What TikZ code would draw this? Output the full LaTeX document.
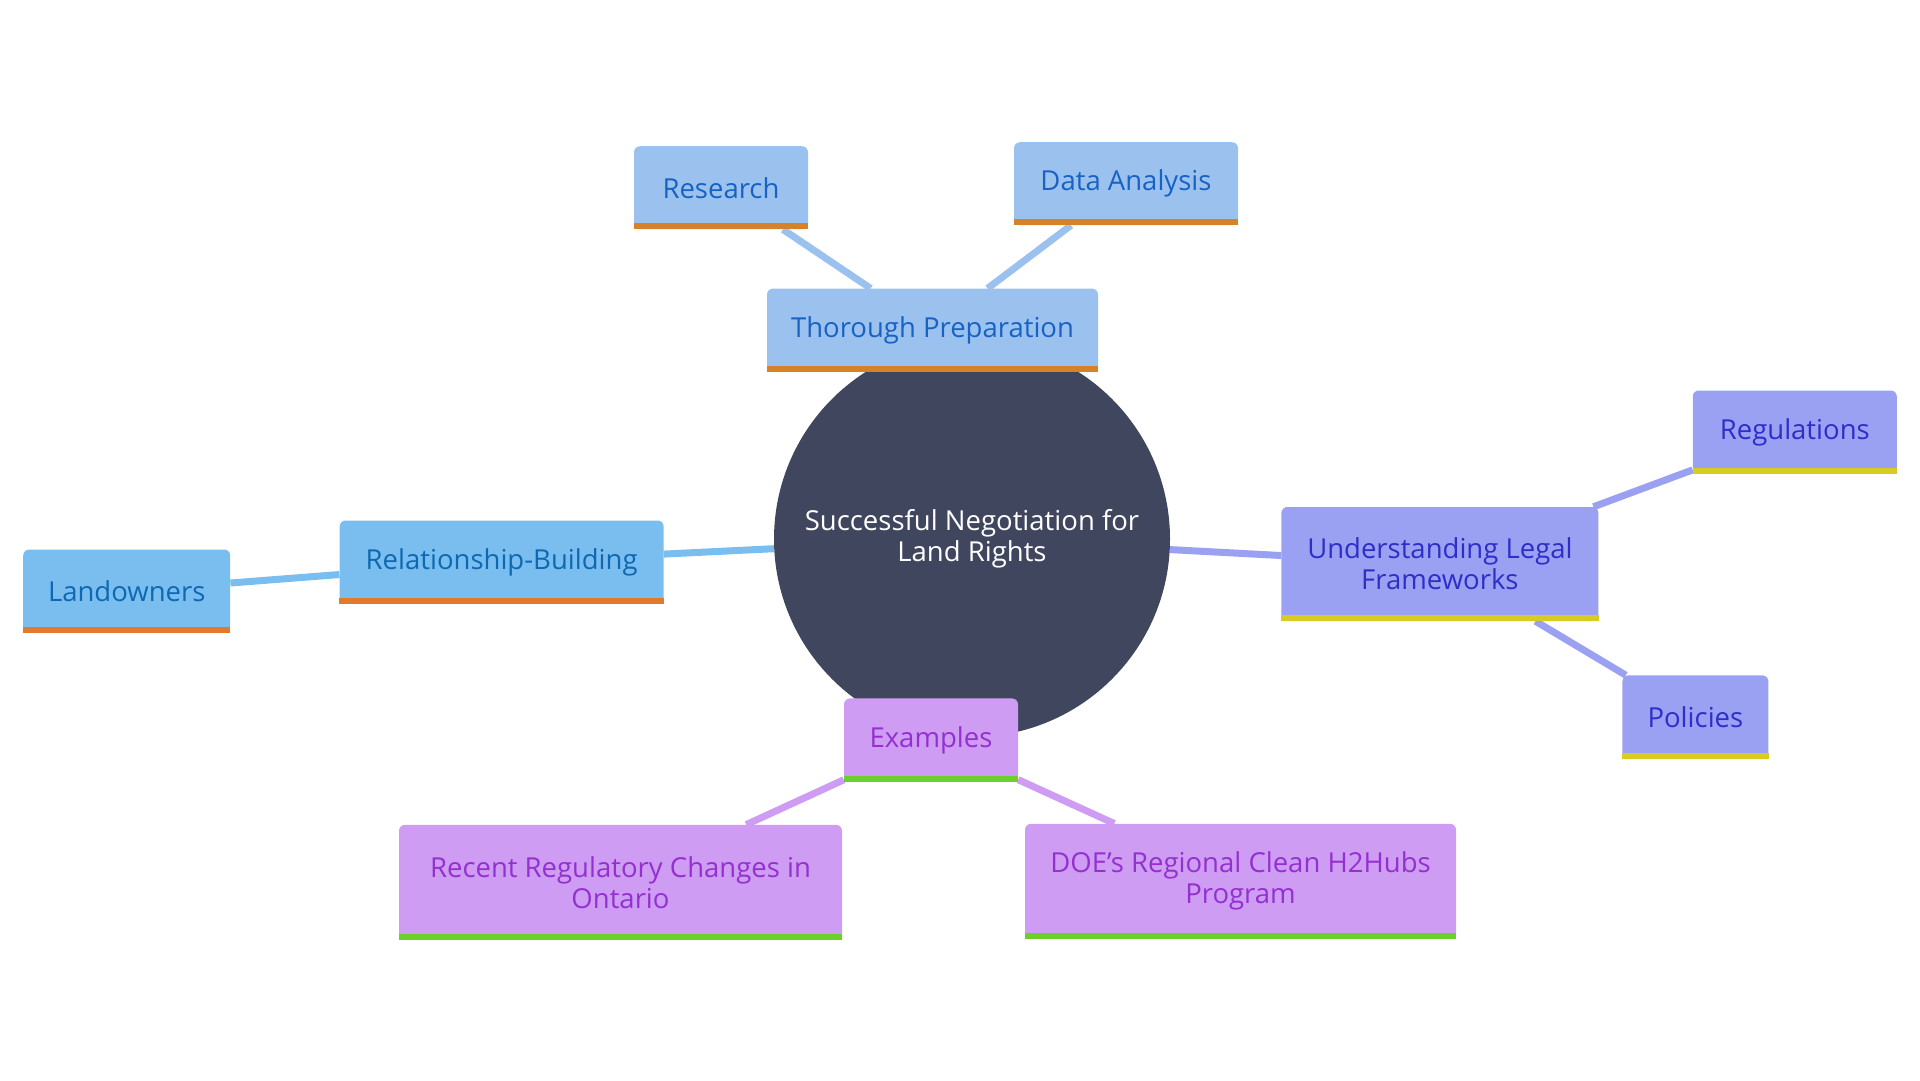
\documentclass[tikz,border=0pt]{standalone}
\usepackage{fontspec}
\setmainfont{Open Sans}
\usetikzlibrary{positioning,backgrounds}
\definecolor{slate}{RGB}{64,70,94}
\definecolor{paleblue}{RGB}{155,194,239}
\definecolor{skyblue}{RGB}{122,190,240}
\definecolor{periwinkle}{RGB}{154,160,242}
\definecolor{lilac}{RGB}{206,156,242}
\definecolor{prepink}{RGB}{24,98,196}
\definecolor{relink}{RGB}{14,104,178}
\definecolor{legalink}{RGB}{46,46,200}
\definecolor{exink}{RGB}{148,48,208}
\definecolor{orangebar}{RGB}{214,130,40}
\definecolor{orangebarb}{RGB}{226,122,46}
\definecolor{yellowbar}{RGB}{214,204,36}
\definecolor{greenbar}{RGB}{108,208,42}
\tikzset{
    %Define style for the centre
    hub/.style={
           circle,
           fill=slate,
           text=white,
           minimum size=396pt,
           align=center,
           font=\fontsize{27.5}{31}\selectfont},
    %Define style for boxes
    box/.style={
           rectangle,
           rounded corners=6pt,
           minimum height=83pt,
           inner sep=4pt,
           align=center,
           font=\fontsize{27.5}{31}\selectfont},
    prepbox/.style={box, fill=paleblue, text=prepink},
    relbox/.style={box, fill=skyblue, text=relink},
    legalbox/.style={box, fill=periwinkle, text=legalink},
    exbox/.style={box, fill=lilac, text=exink},
    % Define edge style
    link/.style={
           line width=7pt}
}

\begin{document}
\begin{tikzpicture}
    \useasboundingbox (0,0) rectangle (1920pt,-1080pt);
 %nodes
    \node[hub] (goal) at (972pt,-539pt) {Successful Negotiation for\\Land Rights};
    \node[prepbox, minimum width=331pt, above=-31pt of goal, xshift=-39.5pt] (prep) {Thorough Preparation};
    \node[prepbox, minimum width=174pt, above=59pt of prep, xshift=-211.5pt] (research) {Research};
    \node[prepbox, minimum width=224pt, above=63pt of prep, xshift=193.5pt] (analysis) {Data Analysis};
    \node[relbox, minimum width=324pt, left=110pt of goal, yshift=-23pt] (relation) {Relationship-Building};
    \node[relbox, minimum width=207pt, left=109pt of relation, yshift=-29pt] (owners) {Landowners};
    \node[legalbox, minimum width=317pt, minimum height=114pt, right=111pt of goal, yshift=-25pt] (legal) {Understanding Legal\\Frameworks};
    \node[legalbox, minimum width=204pt, right=94pt of legal, yshift=132pt] (regs) {Regulations};
    \node[legalbox, minimum width=146pt, below=54pt of legal, xshift=255.5pt] (policies) {Policies};
    \node[exbox, minimum width=174pt, below=-39pt of goal, xshift=-41pt] (examples) {Examples};
    \node[exbox, minimum width=443pt, minimum height=115pt, below=43pt of examples, xshift=-310.5pt] (ontario) {Recent Regulatory Changes in\\Ontario};
    \node[exbox, minimum width=431pt, minimum height=115pt, below=42pt of examples, xshift=309.5pt] (hubs) {DOE's Regional Clean H2Hubs\\Program};
 %bars
    \fill[orangebar] (prep.south west) rectangle ([yshift=6pt]prep.south east);
    \fill[orangebar] (research.south west) rectangle ([yshift=6pt]research.south east);
    \fill[orangebar] (analysis.south west) rectangle ([yshift=6pt]analysis.south east);
    \fill[orangebarb] (relation.south west) rectangle ([yshift=6pt]relation.south east);
    \fill[orangebarb] (owners.south west) rectangle ([yshift=6pt]owners.south east);
    \fill[yellowbar] (legal.south west) rectangle ([yshift=6pt]legal.south east);
    \fill[yellowbar] (regs.south west) rectangle ([yshift=6pt]regs.south east);
    \fill[yellowbar] (policies.south west) rectangle ([yshift=6pt]policies.south east);
    \fill[greenbar] (examples.south west) rectangle ([yshift=6pt]examples.south east);
    \fill[greenbar] (ontario.south west) rectangle ([yshift=6pt]ontario.south east);
    \fill[greenbar] (hubs.south west) rectangle ([yshift=6pt]hubs.south east);
 %edges
    \begin{scope}[on background layer]
    \draw[link, draw=paleblue] (goal) -- (prep);
    \draw[link, draw=paleblue] (prep) -- (research);
    \draw[link, draw=paleblue] (prep) -- (analysis);
    \draw[link, draw=skyblue] (goal) -- (relation);
    \draw[link, draw=skyblue] (relation) -- (owners);
    \draw[link, draw=periwinkle] (goal) -- (legal);
    \draw[link, draw=periwinkle] (legal) -- (regs);
    \draw[link, draw=periwinkle] (legal) -- (policies);
    \draw[link, draw=lilac] (goal) -- (examples);
    \draw[link, draw=lilac] (examples) -- (ontario);
    \draw[link, draw=lilac] (examples) -- (hubs);
    \end{scope}
\end{tikzpicture}
\end{document}
